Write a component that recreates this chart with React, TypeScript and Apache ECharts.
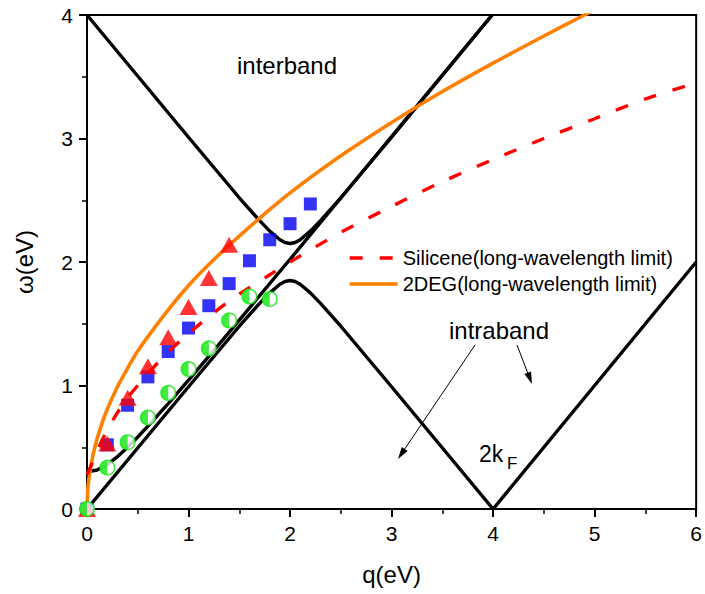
import React, { useEffect, useRef } from 'react';
import * as echarts from 'echarts';

// Black boundary curves (q, ω)
const gapCurve = [[0,0.3],[0.1,0.316],[0.2,0.36],[0.3,0.424],[0.4,0.5],[0.5,0.583],[0.6,0.671],[0.8,0.854],[1,1.044],[1.25,1.285],[1.5,1.53],[2,2.022],[2.5,2.518],[3,3.015],[3.5,3.513],[3.99,4.0]];
const upperBranch = [[0,4.0],[1,3.01],[1.5,2.52],[1.7,2.335],[1.8,2.25],[1.9,2.18],[1.95,2.158],[2,2.15],[2.05,2.158],[2.1,2.18],[2.2,2.25],[2.3,2.335],[2.5,2.52],[3,3.01],[3.99,4.0]];
const lowerBranch = [[0,0],[1,0.99],[1.5,1.48],[1.7,1.665],[1.8,1.75],[1.9,1.82],[1.95,1.842],[2,1.85],[2.05,1.842],[2.1,1.82],[2.2,1.75],[2.3,1.665],[2.5,1.48],[3,0.99],[4,0],[6,2]];

// Long-wavelength limits
const siliceneLimit = [[0,0.28],[0.05,0.37],[0.1,0.47],[0.2,0.64],[0.3,0.78],[0.4,0.9],[0.5,1.0],[0.75,1.23],[1,1.42],[1.25,1.59],[1.5,1.74],[1.75,1.87],[2,2.0],[2.5,2.24],[3,2.45],[3.5,2.65],[4,2.83],[4.5,3.0],[5,3.16],[5.5,3.32],[6,3.45]];
const degLimit = [[0,0],[0.01,0.18],[0.03,0.31],[0.06,0.44],[0.1,0.57],[0.15,0.7],[0.2,0.81],[0.3,0.99],[0.4,1.14],[0.5,1.28],[0.75,1.56],[1,1.81],[1.25,2.02],[1.5,2.21],[1.75,2.39],[2,2.56],[2.5,2.86],[3,3.13],[3.5,3.38],[4,3.61],[4.5,3.83],[4.9,4.0],[5,4.04]];

// Markers
const squares = [[0,0],[0.2,0.52],[0.4,0.84],[0.6,1.07],[0.8,1.275],[1.0,1.465],[1.2,1.646],[1.4,1.825],[1.6,2.01],[1.8,2.18],[2.0,2.31],[2.2,2.47]];
const triangles = [[0,0],[0.2,0.53],[0.4,0.9],[0.6,1.155],[0.8,1.39],[1.0,1.636],[1.2,1.87],[1.4,2.14]];
const circles = [[0,0],[0.2,0.335],[0.4,0.54],[0.6,0.74],[0.8,0.94],[1.0,1.133],[1.2,1.3],[1.4,1.527],[1.6,1.72],[1.8,1.7]];

const xTicks = { min: 0, max: 6, interval: 1 };
const yTicks = { min: 0, max: 4, interval: 1 };

const FONT = "'Liberation Sans', Arial, sans-serif";
const GREEN = '#12e612';

function arrow(x1: number, y1: number, x2: number, y2: number) {
  const dx = x2 - x1, dy = y2 - y1;
  const L = Math.sqrt(dx * dx + dy * dy);
  const ux = dx / L, uy = dy / L;
  const hl = 12, hw = 3.6;
  const bx = x2 - ux * hl, by = y2 - uy * hl;
  const nx = -uy, ny = ux;
  return [
    { type: 'line', shape: { x1, y1, x2: bx + ux * 2, y2: by + uy * 2 }, style: { stroke: '#000', lineWidth: 1 } },
    { type: 'polygon', shape: { points: [[x2, y2], [bx + nx * hw, by + ny * hw], [bx - nx * hw, by - ny * hw]] }, style: { fill: '#000' } },
  ];
}

export default function App() {
  const ref = useRef<HTMLDivElement>(null);
  useEffect(() => {
    document.body.style.margin = '0';
    const chart = echarts.init(ref.current!, null, { renderer: 'svg' });
    const axisCommon = {
      type: 'value',
      axisLine: { show: true, onZero: false, lineStyle: { color: '#000', width: 2 } },
      axisTick: { show: true, inside: false, length: 8, lineStyle: { color: '#000', width: 2 } },
      minorTick: { show: true, splitNumber: 2, length: 5, lineStyle: { color: '#000', width: 1.5 } },
      splitLine: { show: false },
      minorSplitLine: { show: false },
      nameTextStyle: { fontSize: 24, color: '#000', fontFamily: FONT },
    };
    const blackLine = (data: number[][]) => ({
      type: 'line', data, showSymbol: false, symbol: 'none', z: 2,
      lineStyle: { color: '#000', width: 3.4 }, silent: true,
    });
    chart.setOption({
      animation: false,
      grid: { left: 87, right: 5, top: 15, bottom: 85, show: true, borderColor: '#000', borderWidth: 2, backgroundColor: 'transparent' },
      xAxis: {
        ...axisCommon, ...xTicks,
        name: 'q(eV)', nameLocation: 'middle', nameGap: 53,
        axisLabel: { fontSize: 21, color: '#000', margin: 14, fontFamily: FONT },
      },
      yAxis: {
        ...axisCommon, ...yTicks,
        name: 'ω(eV)', nameLocation: 'middle', nameGap: 51, nameRotate: 90,
        axisLabel: { fontSize: 21, color: '#000', margin: 14, fontFamily: FONT },
      },
      legend: {
        orient: 'vertical', left: 343, top: 243, itemWidth: 48, itemHeight: 20, itemGap: 6,
        textStyle: { fontSize: 20, color: '#000', fontFamily: FONT },
        itemStyle: { opacity: 0 },
        lineStyle: { width: 3.4 },
        data: ['Silicene(long-wavelength limit)', '2DEG(long-wavelength limit)'],
        selectedMode: false,
      },
      series: [
        blackLine(gapCurve),
        blackLine(upperBranch),
        blackLine(lowerBranch),
        {
          name: '2DEG(long-wavelength limit)', type: 'line', data: degLimit, symbol: 'none', smooth: 0.3, z: 3,
          lineStyle: { color: '#ff8000', width: 3.6 }, itemStyle: { color: '#ff8000' },
        },
        {
          name: 'squares', type: 'scatter', data: squares, symbol: 'rect', symbolSize: 13, z: 4,
          itemStyle: { color: '#0000f5' },
        },
        {
          name: 'Silicene(long-wavelength limit)', type: 'line', data: siliceneLimit, symbol: 'none', smooth: 0.3, z: 5,
          lineStyle: { color: '#ff0000', width: 3.4, type: [13, 17] }, itemStyle: { color: '#ff0000' },
        },
        {
          name: 'triangles', type: 'scatter', data: triangles, symbol: 'triangle', symbolSize: [18, 16], z: 6,
          itemStyle: { color: '#ff0000' },
        },
        {
          name: 'circles', type: 'scatter', data: circles, symbol: 'circle', symbolSize: 14.5, z: 7,
          itemStyle: { color: '#ffffff', borderColor: GREEN, borderWidth: 1.6 },
        },
        {
          name: 'circlesHalf', type: 'scatter', data: circles, z: 8,
          symbol: 'path://M10,0 C4.477,0 0,4.477 0,10 C0,15.523 4.477,20 10,20 Z',
          symbolSize: [7.25, 14.5], symbolOffset: [-3.6, 0],
          itemStyle: { color: GREEN },
        },
      ],
      graphic: [
        { type: 'text', x: 287, y: 65, style: { text: 'interband', font: `24px ${FONT}`, fill: '#000', align: 'center', verticalAlign: 'middle' } },
        { type: 'text', x: 499, y: 330, style: { text: 'intraband', font: `24px ${FONT}`, fill: '#000', align: 'center', verticalAlign: 'middle' } },
        { type: 'text', x: 479, y: 454, style: { text: '2k', font: `23px ${FONT}`, fill: '#000', align: 'left', verticalAlign: 'middle' } },
        { type: 'text', x: 507, y: 463, style: { text: 'F', font: `17px ${FONT}`, fill: '#000', align: 'left', verticalAlign: 'middle' } },
        ...arrow(475, 345, 398, 459),
        ...arrow(517, 345, 532, 384),
      ],
    });
    return () => chart.dispose();
  }, []);
  return <div ref={ref} style={{ width: 705, height: 594 }} />;
}
